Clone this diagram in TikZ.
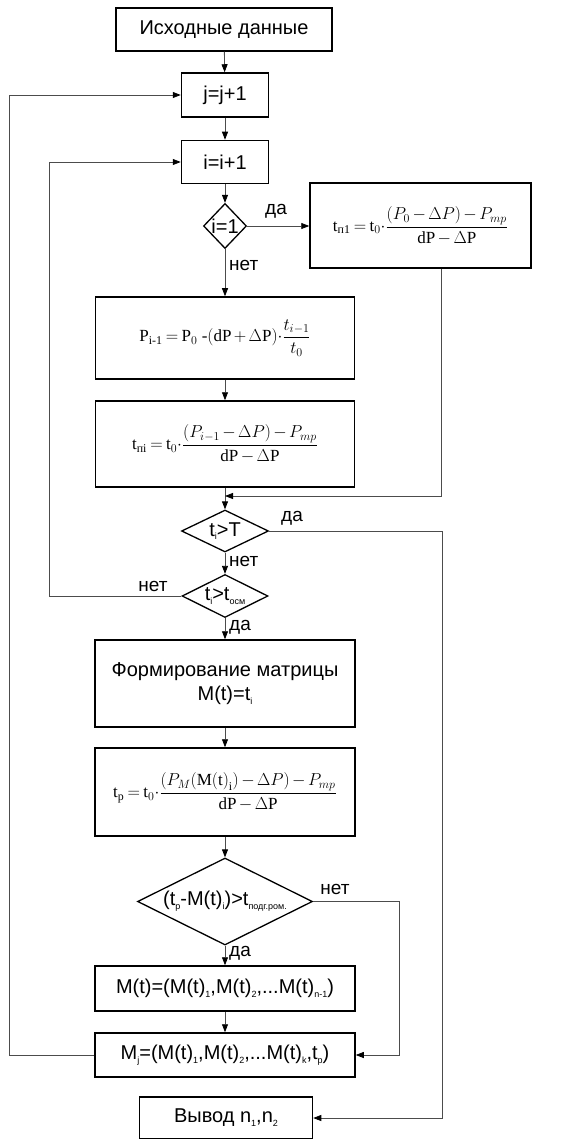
\documentclass[tikz,border=0pt]{standalone}
\usepackage{amsmath}
\usepackage{fontspec}
\setmainfont{Liberation Serif}
\newfontfamily\sansf{Liberation Sans}
\usetikzlibrary{shapes.geometric,arrows.meta,calc}
\newcommand\lsub[1]{\raisebox{-0.35ex}{\fontsize{9}{9}\selectfont #1}}
\newcommand\mdot{\mathord{\cdot}}
\newcommand\tightmath{\medmuskip=2.5mu\relax\thickmuskip=3.5mu\relax}
\begin{document}
\begin{tikzpicture}[x=1pt,y=-1pt,
  box/.style={draw=black, line width=1.5pt, inner sep=0pt, align=center,
              font=\sansf\fontsize{20}{24}\selectfont},
  fbox/.style={draw=black, line width=1.5pt, inner sep=0pt,
              font=\fontsize{17}{20}\selectfont},
  dia/.style={draw=black, line width=1.3pt, diamond, inner sep=0pt,
              font=\sansf\fontsize{20}{22}\selectfont},
  conn/.style={draw=black!70, line width=0.8pt},
  arr/.style={conn, -{Triangle[length=8pt,width=6pt,color=black]}},
  lab/.style={font=\sansf\fontsize{19}{21}\selectfont, inner sep=0pt}
]
\useasboundingbox (0,0) rectangle (566,1139);

\node[box, minimum width=216pt, minimum height=43pt] (start) at (224,29.5) {Исходные данные};
\node[box, minimum width=87pt, minimum height=44pt] (jinc) at (225,95) {j=j+1};
\node[box, minimum width=87pt, minimum height=43pt] (iinc) at (225,162) {i=i+1};
\node[dia, minimum width=43pt, minimum height=45pt] (d1) at (225,226) {\makebox[0pt]{i=1}};
\node[fbox, minimum width=221pt, minimum height=85pt] (tn1) at (420.5,225.5)
  {\tightmath$\mathrm{t}_{\text{п1}} = \mathrm{t}_0\mdot\dfrac{(P_0-\Delta P)-P_{mp}}{\mathrm{dP}-\Delta\mathrm{P}}$};
\node[fbox, minimum width=259pt, minimum height=82pt] (P) at (225,338)
  {\tightmath$\mathrm{P}_{\text{i-1}} = \mathrm{P}_0\ \text{-}(\mathrm{dP}+\Delta\mathrm{P})\mdot\dfrac{t_{i-1}}{t_0}$};
\node[fbox, minimum width=259pt, minimum height=86pt] (tni) at (225,444)
  {\tightmath$\mathrm{t}_{\text{пi}} = \mathrm{t}_0\mdot\dfrac{(P_{i-1}-\Delta P)-P_{mp}}{\mathrm{dP}-\Delta\mathrm{P}}$};
\coordinate (m) at (225,496);
\node[dia, minimum width=87pt, minimum height=42pt] (d2) at (225,531) {\makebox[0pt]{t\lsub{i}>T}};
\node[dia, minimum width=86pt, minimum height=43pt] (d3) at (225,596) {\makebox[0pt]{t\lsub{i}>t\lsub{осм}}};
\node[box, minimum width=260pt, minimum height=87pt] (form) at (225,683.5)
  {Формирование матрицы\\M(t)=t\lsub{i}};
\node[fbox, minimum width=260pt, minimum height=88pt] (tp) at (225,792)
  {\tightmath$\mathrm{t}_\mathrm{p} = \mathrm{t}_0\mdot\dfrac{(P_M(\mathrm{M(t)}_\mathrm{i})-\Delta P)-P_{mp}}{\mathrm{dP}-\Delta\mathrm{P}}$};
\node[dia, minimum width=175pt, minimum height=87pt] (d4) at (225,901.5)
  {\makebox[0pt]{(t\lsub{p}-M(t)\lsub{i})>t\lsub{подг.ром.}}};
\node[box, minimum width=260pt, minimum height=45pt] (Mt) at (225,988.5)
  {M(t)=(M(t)\lsub{1},M(t)\lsub{2},...M(t)\lsub{n-1})};
\node[box, minimum width=260pt, minimum height=44pt] (Mj) at (225,1055)
  {M\lsub{j}=(M(t)\lsub{1},M(t)\lsub{2},...M(t)\lsub{k},t\lsub{p})};
\node[box, minimum width=173pt, minimum height=42pt] (out) at (226,1118)
  {Вывод n\lsub{1},n\lsub{2}};

\draw[arr] (start) -- (jinc);
\draw[arr] (jinc) -- (iinc);
\draw[arr] (iinc) -- (d1);
\draw[arr] (d1.east) -- (d1.east -| tn1.west);
\draw[arr] (d1) -- (P);
\draw[arr] (P) -- (tni);
\draw[arr] (tni.south) -- (d2.north);
\coordinate (tn1o) at ($(tn1.south west)+(132,0)$);
\draw[arr] (tn1o) |- (m);
\draw[arr] (d2.south) -- (d3.north);
\draw[arr] (d3.south) -- (form.north);
\draw[arr] (form) -- (tp);
\draw[arr] (tp) -- (d4);
\draw[arr] (d4) -- (Mt);
\draw[arr] (Mt) -- (Mj);
\draw[arr] (d2.east) -- ++(173,0) |- (out.east);
\draw[arr] (d3.west) -- ++(-132,0) |- (iinc.west);
\draw[arr] (d4.east) -- ++(86,0) |- (Mj.east);
\draw[arr] (Mj.west) -- ++(-85,0) |- (jinc.west);

\node[lab] at (276,211) {да};
\node[lab, anchor=west] at (229,265) {нет};
\node[lab] at (292,518) {да};
\node[lab, anchor=west] at (229,561) {нет};
\node[lab] at (153,586) {нет};
\node[lab, anchor=west] at (229,627) {да};
\node[lab] at (335,889) {нет};
\node[lab, anchor=west] at (229,953) {да};
\end{tikzpicture}
\end{document}
